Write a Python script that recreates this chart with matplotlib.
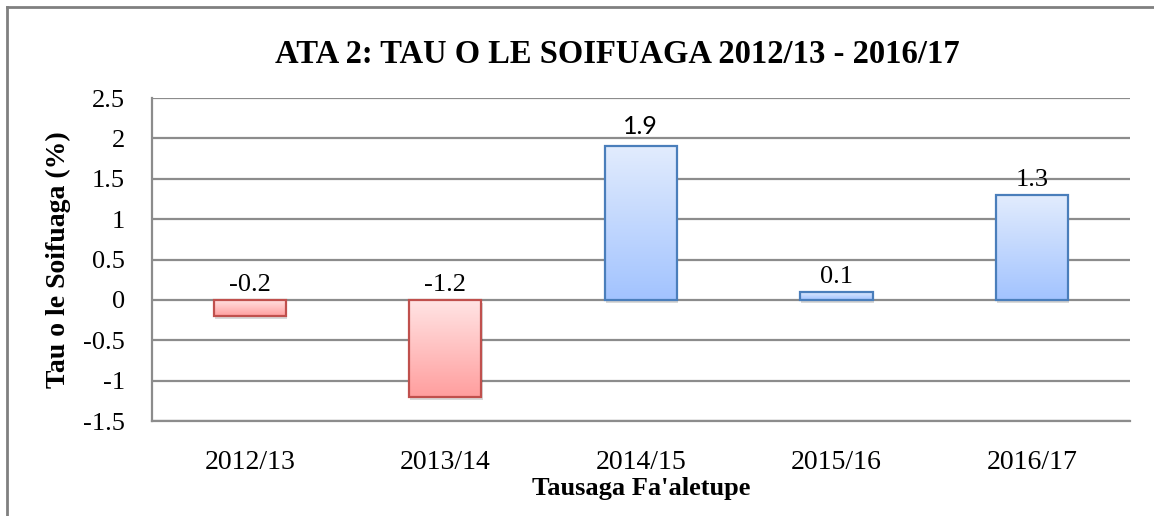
import numpy as np
import matplotlib
matplotlib.use("Agg")
import matplotlib.pyplot as plt
from matplotlib.colors import LinearSegmentedColormap
from matplotlib.lines import Line2D
import matplotlib.patheffects as pe

# data
years = ["2012/13", "2013/14", "2014/15", "2015/16", "2016/17"]
growth = [-0.2, -1.2, 1.9, 0.1, 1.3]
yticks = [2.5, 2, 1.5, 1, 0.5, 0, -0.5, -1, -1.5]

plt.rcParams['font.family'] = ['Liberation Serif', 'DejaVu Serif']

fig = plt.figure(figsize=(11.54, 5.16), dpi=100)
ax = fig.add_axes([0.1317, 0.184, 0.8473, 0.626])

red_cmap = LinearSegmentedColormap.from_list("r", ["#ff9e9e", "#ffe4e4"])
blue_cmap = LinearSegmentedColormap.from_list("b", ["#a2c3ff", "#e2ecfd"])

x = np.arange(len(years))
width = 0.37
shadow = [pe.SimplePatchShadow(offset=(0.8, -2.2), shadow_rgbFace='#000000', alpha=0.15), pe.Normal()]
for i, v in enumerate(growth):
    neg = v < 0
    edge = '#c0504d' if neg else '#4a7ebb'
    cmap = red_cmap if neg else blue_cmap
    bar = ax.bar(x[i], v, width, color='white', edgecolor='none', zorder=2)[0]
    bar.set_path_effects(shadow)
    lo, hi = min(0, v), max(0, v)
    grad = np.linspace(0, 1, 256).reshape(-1, 1)
    im = ax.imshow(grad, cmap=cmap, origin='lower', aspect='auto',
                   extent=[x[i] - width / 2, x[i] + width / 2, lo, hi], zorder=2.5)
    im.set_clip_path(bar)
    ax.bar(x[i], v, width, color='none', edgecolor=edge, linewidth=1.6, zorder=3)
    if v == 1.9:
        ax.annotate(f"{v:g}", (x[i], hi), xytext=(0, 6), textcoords='offset points',
                    ha='center', va='bottom', fontsize=18, family=['Lato', 'DejaVu Sans'])
    else:
        ax.annotate(f"{v:g}", (x[i], hi), xytext=(0, 3), textcoords='offset points',
                    ha='center', va='bottom', fontsize=19)

ax.set_xlim(-0.5, len(years) - 0.5)
ax.set_ylim(-1.5, 2.5)
ax.set_yticks(yticks)
ax.set_yticklabels([f"{t:g}" for t in yticks], fontsize=19)
ax.set_xticks(x)
ax.set_xticklabels(years, fontsize=20)
ax.tick_params(length=0)
ax.tick_params(axis='x', pad=21)
ax.tick_params(axis='y', pad=19.5)

ax.grid(axis='y', color='#8c8c8c', linewidth=1.6, zorder=0)
ax.set_axisbelow(True)
for s in ['top', 'right']:
    ax.spines[s].set_visible(False)
for s in ['left', 'bottom']:
    ax.spines[s].set_color('#8c8c8c')
    ax.spines[s].set_linewidth(1.6)

ax.set_title("ATA 2: TAU O LE SOIFUAGA 2012/13 - 2016/17", fontsize=23.5,
             fontweight='bold', pad=25, x=0.476)
ax.set_xlabel("Tausaga Fa'aletupe", fontsize=19, fontweight='bold', labelpad=1)
ax.set_ylabel("Tau o le Soifuaga (%)", fontsize=20, fontweight='bold', labelpad=9)

# outer frame (left and top edges)
fig.add_artist(Line2D([7 / 1154, 7 / 1154], [0, 1 - 7 / 516], color='#808080', linewidth=2))
fig.add_artist(Line2D([7 / 1154, 1], [1 - 7 / 516, 1 - 7 / 516], color='#808080', linewidth=2))

fig.savefig("out.png", dpi=100)
